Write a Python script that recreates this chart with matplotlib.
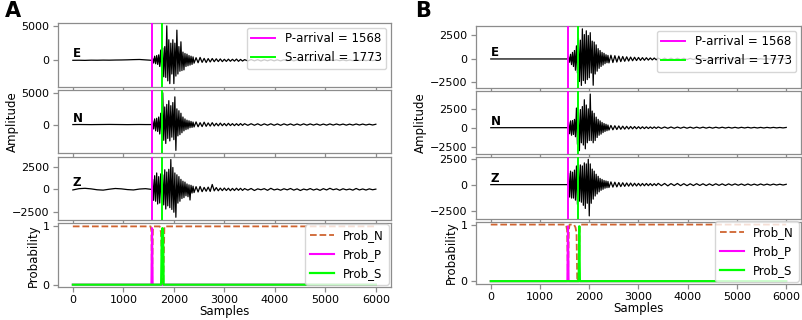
import numpy as np
import matplotlib
matplotlib.use("Agg")
import matplotlib.pyplot as plt

# sample grids (sample index) for the waveform traces
t_pre = np.arange(0, 1560, 120)      # 13 samples before the P onset
t_evt = np.arange(1560, 2400, 20)    # 42 samples, P and S arrivals
t_coda = np.arange(2400, 3400, 40)   # 25 samples, early coda
t_tail = np.arange(3400, 6001, 65)   # 41 samples, late coda

p_arrival = 1568
s_arrival = 1773
components = ["E", "N", "Z"]

# ---- panel A waveforms ----
a_e_pre = [0, 10, -10, 20, 10, 30, 20, 40, 50, 70, 100, 120, 60]
a_e_evt = [0, 300, -400, 600, -500, 700, -600, 800, -900, 1500,
           -1600, 1800, -2400, 2000, -2500, 5020, -3000, 3000, -3400, 2500,
           -2000, 3000, -3400, 2500, -2300, 4400, -2000, 2000, -1600, 2700,
           -1500, 1200, -1400, 1000, -900, 900, -800, 700, -700, 600,
           -600, 500]
a_e_coda = [-420, 380, -350, 420, -300, 280, -320, 250, -240, 260,
            -200, 220, -180, 200, -190, 150, -160, 170, -140, 150,
            -120, 180, -150, 130, -110]
a_e_tail = [100, -90, 110, -80, 90, -100, 80, -70, 90, -80,
            70, -90, 80, -60, 70, -80, 60, -70, 80, -60,
            70, -50, 60, -70, 50, -60, 70, -50, 60, -50,
            50, -60, 40, -50, 60, -40, 50, -50, 40, -40,
            30]

a_n_pre = [0, 10, 0, -10, 0, 10, 20, 10, 0, -10, 0, 10, 0]
a_n_evt = [0, 600, -700, 900, -1000, 1000, -1100, 1200, -1500, 1800,
           -2000, 5050, -2500, 2800, -3000, 3200, -2200, 3800, -2600, 3000,
           -2000, 3500, -2400, 4400, -4100, 2500, -1800, 2200, -1600, 1800,
           -1300, 1200, -1000, 900, -800, 700, -700, 600, -500, 500,
           -450, 400]
a_n_coda = [-380, 420, -350, 300, -320, 380, -280, 260, -240, 300,
            -220, 200, -200, 230, -180, 170, -190, 200, -160, 150,
            -170, 140, -150, 160, -130]
a_n_tail = [140, -120, 130, -110, 120, -130, 110, -100, 120, -110,
            100, -120, 110, -90, 100, -110, 90, -100, 110, -90,
            100, -80, 90, -100, 80, -90, 100, -80, 90, -70,
            80, -90, 70, -80, 90, -70, 80, -70, 60, -70,
            50]

a_z_pre = [-60, 80, 120, 60, -40, -80, 20, 100, 60, -20, -60, 40, 80]
a_z_evt = [0, 1100, -1200, 1500, -1300, 1800, -1600, 1400, -1500, 1700,
           -1400, 1600, -1700, 2150, -2150, 1900, -1800, 2200, -2000, 3270,
           -2200, 2400, -2500, 1800, -3050, 1600, -1500, 1400, -1300, 1100,
           -1000, 900, -900, 800, -700, 600, -800, 500, -1160, 450,
           -400, 350]
a_z_coda = [-350, 300, -280, 320, -250, 220, -200, 250, -220, 540,
            -160, 200, -150, 140, -130, 150, -120, 130, -140, 110,
            -120, 130, -100, 120, -110]
a_z_tail = [90, -80, 100, -120, 60, -40, 80, -100, 120, -60,
            40, -90, 70, -50, 100, -80, 60, -120, 40, -60,
            90, -70, 50, -100, 80, -60, 120, -40, 60, -90,
            70, -50, 40, -80, 100, -60, 50, -70, 60, -40,
            30]

# ---- panel B waveforms ----
b_e_pre = [0, 0, 0, 0, 0, 0, 0, 0, 0, 0, 0, 0, 0]
b_e_evt = [0, 250, -350, 500, -600, 700, -800, 900, -1200, 1400,
           -1500, 2200, -2400, 2000, -2820, 3210, -2300, 2600, -2600, 3000,
           -2200, 2500, -2000, 2800, -1500, 1900, -2800, 1800, -1600, 1500,
           -1300, 1100, -1000, 900, -800, 700, -650, 600, -500, 450,
           -400, 380]
b_e_coda = [-420, 400, -380, 350, -330, 300, -280, 260, -250, 230,
            -220, 200, -190, 180, -170, 160, -150, 140, -140, 130,
            -120, 110, -100, 100, -90]
b_e_tail = [90, -80, 80, -70, 80, -70, 70, -60, 70, -60,
            60, -60, 60, -50, 60, -50, 50, -50, 50, -40,
            50, -40, 40, -40, 40, -40, 40, -30, 40, -30,
            30, -30, 30, -30, 30, -20, 30, -20, 20, -20,
            20]

b_n_pre = [0, 0, 0, 0, 0, 0, 0, 0, 0, 0, 0, 0, 0]
b_n_evt = [0, 700, -800, 900, -1000, 950, -900, 1100, -1200, 2600,
           -2200, 2000, -3040, 2400, -2000, 2800, -2300, 3700, -2800, 3000,
           -2000, 2500, -1700, 4450, -1700, 2200, -2000, 1900, -1700, 1400,
           -1300, 1100, -1000, 900, -850, 700, -650, 550, -500, 450,
           -400, 350]
b_n_coda = [-320, 300, -280, 260, -240, 230, -210, 200, -190, 180,
            -170, 160, -150, 150, -140, 130, -130, 120, -120, 110,
            -110, 100, -100, 100, -90]
b_n_tail = [100, -90, 90, -80, 90, -80, 80, -70, 80, -70,
            70, -70, 70, -60, 70, -60, 60, -60, 60, -50,
            60, -50, 50, -50, 50, -50, 50, -40, 50, -40,
            40, -40, 40, -40, 40, -30, 40, -30, 30, -30,
            30]

b_z_pre = [0, 0, 0, 0, 0, 0, 0, 0, 0, 0, 0, 0, 0]
b_z_evt = [0, 1100, -1200, 1300, -1300, 1200, -1300, 1400, -1500, 1800,
           -1900, 1950, -1600, 1900, -1700, 1800, -2000, 2100, -2300, 2000,
           -1800, 2440, -3020, 2000, -1800, 1500, -1400, 1300, -1100, 1000,
           -900, 800, -700, 600, -550, 500, -450, 400, -350, 350,
           -300, 300]
b_z_coda = [-280, 260, -240, 230, -220, 200, -190, 180, -170, 160,
            -150, 150, -140, 130, -130, 120, -120, 110, -110, 110,
            -100, 100, -100, 90, -90]
b_z_tail = [120, -100, 110, -120, 100, -90, 110, -100, 90, -100,
            80, -90, 90, -80, 80, -90, 70, -80, 80, -70,
            70, -80, 70, -60, 70, -60, 60, -70, 60, -60,
            50, -60, 60, -50, 50, -50, 50, -40, 40, -40,
            30]

# ---- model probabilities ----
a_prob_n_t = [0, 1540, 1556, 1568, 1585, 1600, 1720, 1745, 1760, 1773, 1790, 1800, 1812, 6000]
a_prob_n = [1, 1, 0.92, 0.03, 0.95, 1, 1, 0.9, 0.5, 0.1, 0.0, 0.4, 1, 1]
a_prob_p_t = [0, 1556, 1568, 1580, 6000]
a_prob_p = [0, 0, 0.97, 0, 0]
a_prob_s_t = [0, 1748, 1762, 1773, 1786, 1798, 6000]
a_prob_s = [0, 0, 0.85, 0.97, 0.9, 0, 0]

b_prob_n_t = [0, 1530, 1550, 1568, 1585, 1600, 1690, 1720, 1742, 1755, 1770, 1790, 1805, 6000]
b_prob_n = [1, 1, 0.9, 0.02, 0.9, 1, 1, 0.95, 0.85, 0.05, 0, 0.2, 1, 1]
b_prob_p_t = [0, 1556, 1568, 1580, 6000]
b_prob_p = [0, 0, 0.97, 0, 0]
b_prob_s_t = [0, 1785, 1797, 1810, 6000]
b_prob_s = [0, 0, 0.97, 0, 0]

W, H = 803, 320
FS = 8.5     # labels / legend
TFS = 8      # tick labels
fig = plt.figure(figsize=(W / 100, H / 100), dpi=100)


def style(ax):
    for sp in ax.spines.values():
        sp.set_color("0.55")
        sp.set_linewidth(0.9)
    ax.tick_params(colors="0.55", labelcolor="black", labelsize=TFS, width=0.9, pad=2.5)


def draw_panel(box, traces, ylims, yticks, probs, prob_ylim, letter, letter_x):
    left, right, top, bottom, gap = box
    h = (bottom - top - 3 * gap) / 4
    axes = []
    for i in range(4):
        y0 = top + i * (h + gap)
        ax = fig.add_axes([left / W, 1 - (y0 + h) / H, (right - left) / W, h / H])
        style(ax)
        ax.set_xlim(-300, 6300)
        ax.set_xticks(range(0, 6001, 1000))
        axes.append(ax)

    for ax, comp, tr, yl, yt in zip(axes[:3], components, traces, ylims, yticks):
        t = np.concatenate([t_pre, t_evt, t_coda, t_tail])
        y = np.concatenate([np.array(seg, dtype=float) for seg in tr])
        ax.plot(t, y, color="black", lw=0.9)
        ax.axvline(p_arrival, color="#ff00ff", lw=1.4, zorder=3, label=f"P-arrival = {p_arrival}")
        ax.axvline(s_arrival, color="#00ff00", lw=1.4, zorder=3, label=f"S-arrival = {s_arrival}")
        ax.set_ylim(*yl)
        ax.set_yticks(yt)
        ax.tick_params(labelbottom=False)
        ax.text(0, 0, comp, fontsize=FS, fontweight="bold", ha="left", va="bottom")

    axes[0].legend(loc="upper right", fontsize=FS, framealpha=0.8, borderaxespad=0.4)
    axes[1].set_ylabel("Amplitude", fontsize=FS, labelpad=2)

    pax = axes[3]
    (nt, nv), (pt, pv), (st, sv) = probs
    pax.plot(nt, nv, "--", color="#cf6430", lw=1.3, label="Prob_N")
    pax.plot(pt, pv, color="#ff00ff", lw=1.5, label="Prob_P")
    pax.plot(st, sv, color="#00ff00", lw=1.6, label="Prob_S")
    pax.set_ylim(*prob_ylim)
    pax.set_yticks([0, 1])
    pax.set_ylabel("Probability", fontsize=FS, labelpad=2)
    pax.set_xlabel("Samples", fontsize=FS, labelpad=0)
    pax.legend(loc="lower right", fontsize=FS, framealpha=0.8, borderaxespad=0.2)

    fig.text(letter_x / W, 1 - 1 / H, letter, fontsize=15, fontweight="bold", va="top", ha="left")


draw_panel((57.7, 391, 23, 287, 3.3),
           [(a_e_pre, a_e_evt, a_e_coda, a_e_tail),
            (a_n_pre, a_n_evt, a_n_coda, a_n_tail),
            (a_z_pre, a_z_evt, a_z_coda, a_z_tail)],
           [(-3824, 5441), (-4574, 5520), (-3370, 3587)],
           [[0, 5000], [0, 5000], [-2500, 0, 2500]],
           [(a_prob_n_t, a_prob_n), (a_prob_p_t, a_prob_p), (a_prob_s_t, a_prob_s)],
           (-0.04, 1.05), "A", 5)

draw_panel((476, 801, 26, 284, 3.0),
           [(b_e_pre, b_e_evt, b_e_coda, b_e_tail),
            (b_n_pre, b_n_evt, b_n_coda, b_n_tail),
            (b_z_pre, b_z_evt, b_z_coda, b_z_tail)],
           [(-3120, 3511), (-3419, 4824), (-3294, 2713)],
           [[-2500, 0, 2500], [-2500, 0, 2500], [-2500, 0, 2500]],
           [(b_prob_n_t, b_prob_n), (b_prob_p_t, b_prob_p), (b_prob_s_t, b_prob_s)],
           (-0.05, 1.05), "B", 415)

fig.savefig("out.png", dpi=100)
